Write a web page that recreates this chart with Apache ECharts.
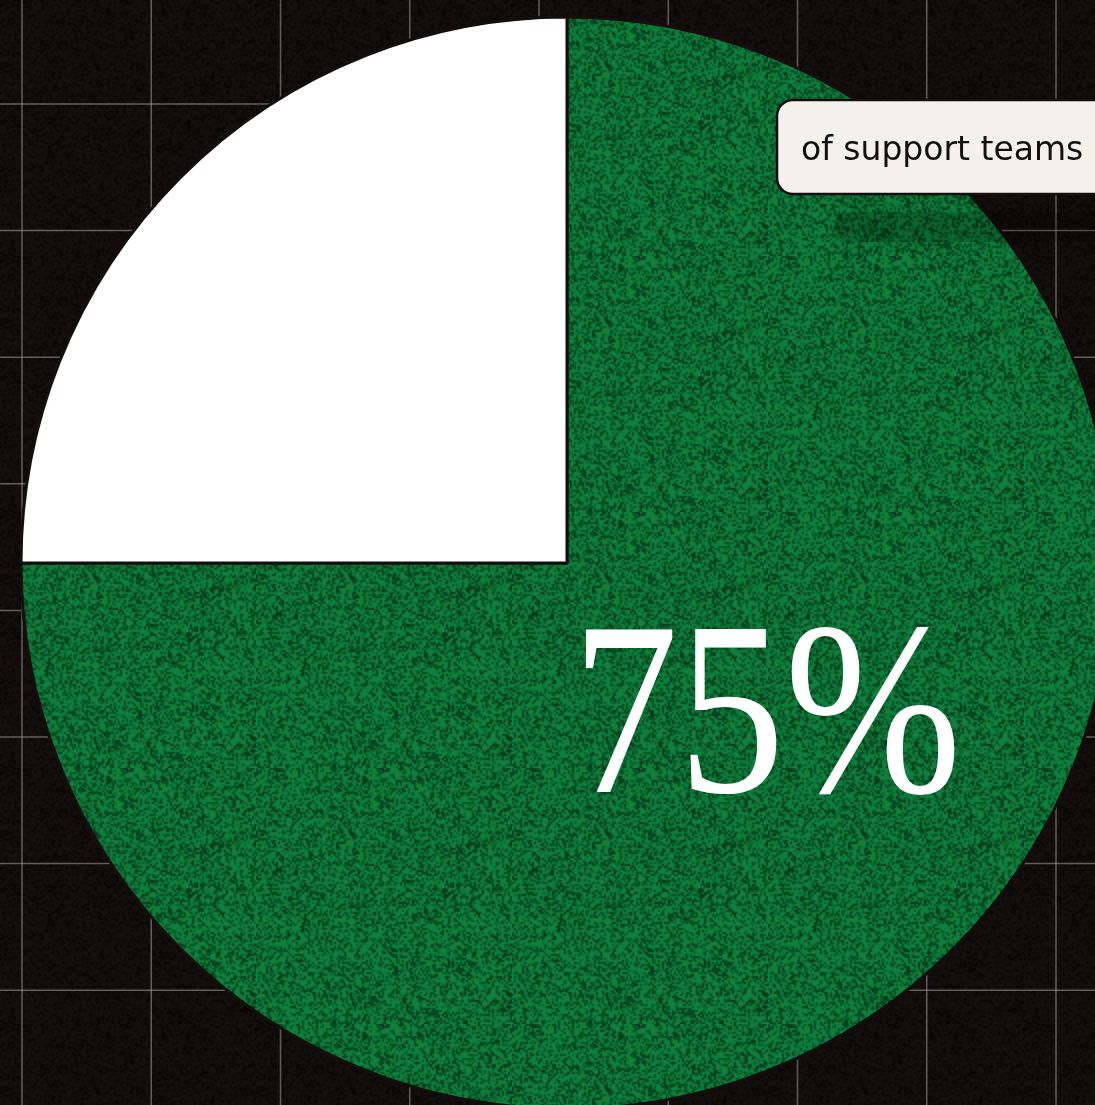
<!DOCTYPE html>
<html><head><meta charset="utf-8">
<style>html,body{margin:0;padding:0;background:#130e0d;}#c{width:1095px;height:1105px;}</style>
<script src="https://cdn.jsdelivr.net/npm/echarts@6/dist/echarts.min.js"></script>
</head><body><div id="c"></div>
<script>
// Data
var categories = ['Support teams', 'Others'];
var values = [75, 25];
var boxLabel = 'of support teams';

// deterministic hash noise texture (style only)
function hash(i){ var x = Math.sin(i*12.9898+78.233)*43758.5453; return x-Math.floor(x); }
function noiseCanvas(base, dark, density, scale){
  var s=128, cv=document.createElement('canvas'); cv.width=s; cv.height=s;
  var ctx=cv.getContext('2d'); ctx.fillStyle=base; ctx.fillRect(0,0,s,s);
  var img=ctx.getImageData(0,0,s,s), d=img.data;
  for(var p=0;p<s*s;p++){
    var h=hash(p*1.37+ (p%s)*0.11);
    if(h<density){ var t=0.3+0.65*hash(p+0.5);
      d[p*4]=d[p*4]*(1-t)+dark[0]*t; d[p*4+1]=d[p*4+1]*(1-t)+dark[1]*t; d[p*4+2]=d[p*4+2]*(1-t)+dark[2]*t; }
  }
  ctx.putImageData(img,0,0);
  var out=document.createElement('canvas'); out.width=s*scale; out.height=s*scale;
  var o=out.getContext('2d'); o.imageSmoothingEnabled=true; o.drawImage(cv,0,0,s*scale,s*scale);
  return out;
}
var greenTex = noiseCanvas('#0e803c',[4,42,18],0.45,2);
var bgTex = noiseCanvas('#140f0e',[6,4,4],0.4,2);

// decorative background grid (style only)
var W = 1095, H = 1105, gx0 = 22, gdx = 129.25, gy0 = 104, gdy = 126.6;
var gridEls = [];
for (var x = gx0; x < W; x += gdx) gridEls.push({type:'line', z:0, silent:true, shape:{x1:x,y1:0,x2:x,y2:H}, style:{stroke:'rgba(165,160,160,0.55)', lineWidth:1.5}});
for (var y = gy0 - gdy; y < H; y += gdy) gridEls.push({type:'line', z:0, silent:true, shape:{x1:0,y1:y,x2:W,y2:y}, style:{stroke:'rgba(165,160,160,0.55)', lineWidth:1.5}});

var chart = echarts.init(document.getElementById('c'));
chart.setOption({
  backgroundColor: {image: bgTex, repeat: 'repeat'},
  animation: false,
  series: [{
    type: 'pie', center: [567, 563], radius: 546, startAngle: 90, clockwise: true, z: 5,
    label: {show: false}, labelLine: {show: false}, silent: true,
    itemStyle: {borderColor: '#140e0d', borderWidth: 3},
    data: [
      {name: categories[0], value: values[0], itemStyle: {color: {image: greenTex, repeat: 'repeat'}}},
      {name: categories[1], value: values[1], itemStyle: {color: '#ffffff'}}
    ]
  }],
  graphic: gridEls.concat([
    {type: 'text', z: 100, left: 572, top: 604, scaleX: 0.86, style: {text: values[0] + '%', fill: '#ffffff',
      font: '247px "Liberation Serif", serif'}},
    {type: 'rect', z: 99, silent: true, shape: {x: 835, y: 212, width: 300, height: 30, r: 12},
      style: {fill: 'rgba(0,0,0,0.16)', shadowBlur: 16, shadowColor: 'rgba(0,0,0,0.3)'}},
    {type: 'rect', z: 100, shape: {x: 777, y: 100, width: 340, height: 94, r: 16},
      style: {fill: '#f4f1ec', stroke: '#140e0d', lineWidth: 2.5}},
    {type: 'text', z: 101, x: 801, y: 151, style: {text: boxLabel, fill: '#111', font: '33px "DejaVu Sans", sans-serif', verticalAlign: 'middle'}}
  ])
});
</script></body></html>
